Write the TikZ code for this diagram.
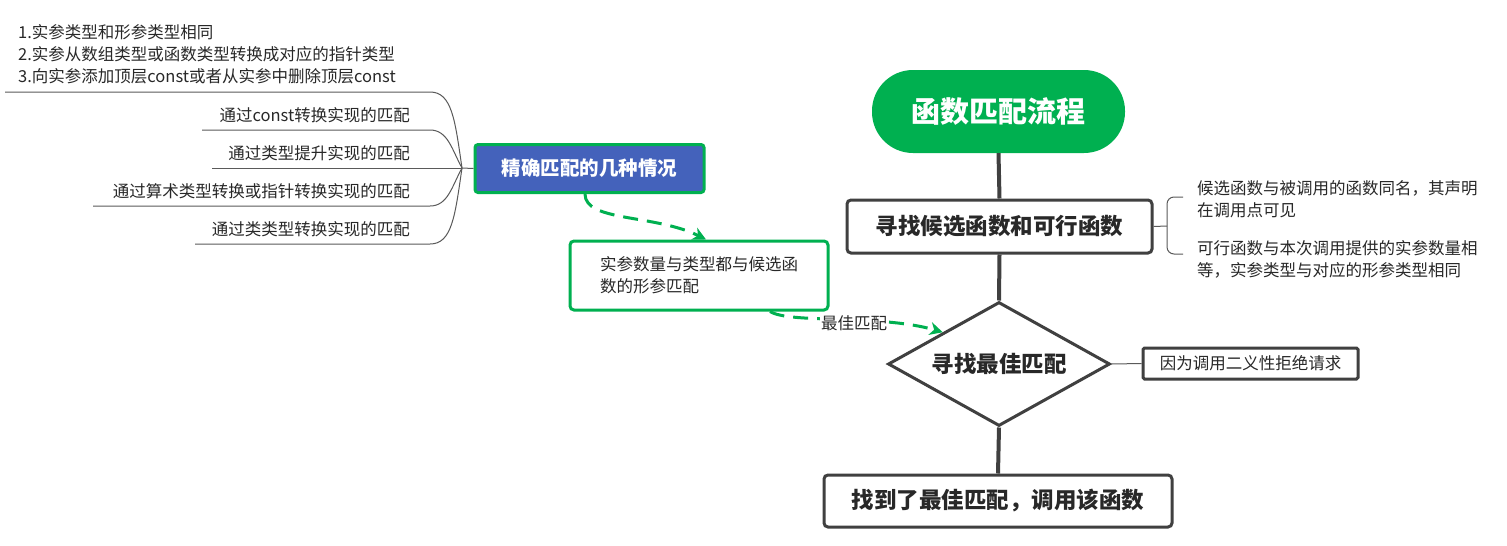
\documentclass[tikz,border=0pt]{standalone}
\usepackage{fontspec}
\setmainfont{Noto Sans CJK SC}
\usetikzlibrary{shapes.geometric,arrows.meta}
\definecolor{mgreen}{RGB}{0,176,80}
\definecolor{mblue}{RGB}{68,98,187}
\definecolor{mdark}{RGB}{64,64,64}
\definecolor{mtext}{RGB}{40,40,40}
\definecolor{mline}{RGB}{90,90,90}
\begin{document}
\begin{tikzpicture}[x=1pt,y=-1pt,
  small/.style={font=\fontsize{16.5}{22}\selectfont, text=mtext, inner sep=0pt},
  pill/.style={fill=mgreen, rounded corners=41pt, minimum width=253pt, minimum height=83pt, text=white, font=\fontsize{29}{34}\selectfont\bfseries},
  gbox/.style={draw=mdark, line width=3pt, rounded corners=4pt, fill=white, text=mtext, font=\fontsize{22.5}{27}\selectfont\bfseries},
  dia/.style={diamond, draw=mdark, line width=3pt, fill=white, inner sep=0pt, minimum width=222pt, minimum height=124pt, aspect=1.79, text=mtext, font=\fontsize{22.5}{27}\selectfont\bfseries},
  flow/.style={draw=mdark, line width=4pt},
  thin/.style={draw=mline, line width=1pt},
  garrow/.style={draw=mgreen, line width=3pt, dash pattern=on 15pt off 9pt, -{Stealth[length=13pt,width=13pt,inset=4pt]}},
]
\useasboundingbox (0,0) rectangle (1507,546);
\fill[white] (0,0) rectangle (1507,546);

% main flow
\node[pill] (title) at (998.5,111.5) {函数匹配流程};
\node[gbox, minimum width=305pt, minimum height=53pt] (find) at (999.5,226.5) {寻找候选函数和可行函数};
\node[dia] (best) at (999,364) {寻找最佳匹配};
\node[gbox, minimum width=348pt, minimum height=52pt] (call) at (998,501) {找到了最佳匹配，调用该函数};
\node[draw=mdark, line width=3pt, rounded corners=1.5pt, minimum width=215pt, minimum height=31pt, small, inner sep=0pt] (amb) at (1250.5,363.5) {因为调用二义性拒绝请求};

\draw[flow] (title.south) -- (find.north);
\draw[flow] (find.south) -- (best.north);
\draw[flow] (best.south) -- (call.north);
\draw[thin] (best.east) -- (amb.west);

% brace on the right
\coordinate (br) at (1167,226);
\draw[thin] (find.east) -- (br);
\draw[thin, rounded corners=7pt] (1183,197) -- (1167,197) -- (1167,254) -- (1183,254);
\node[small, anchor=west, align=left] (cand) at (1197,199) {候选函数与被调用的函数同名，其声明\\在调用点可见};
\node[small, anchor=west, align=left] (viab) at (1197,259) {可行函数与本次调用提供的实参数量相\\等，实参类型与对应的形参类型相同};

% exact match box
\node[fill=mblue, draw=mgreen, line width=3pt, rounded corners=3pt, minimum width=229pt, minimum height=48pt, text=white, font=\fontsize{19.5}{24}\selectfont\bfseries] (exact) at (589.5,168.5) {精确匹配的几种情况};

\node[draw=mgreen, line width=3pt, rounded corners=4pt, fill=white, small, align=left, inner xsep=27pt, minimum width=258pt, minimum height=69pt] (match) at (699,275.5) {实参数量与类型都与候选函\\数的形参匹配};

\draw[garrow] ([xshift=-4.5pt]exact.south) .. controls (585,222) and (655,214) .. ([xshift=7pt]match.north);
\draw[garrow] ([xshift=71pt]match.south) .. controls (790,324) and (880,314) .. (best.north west);
\node[small, fill=white, inner sep=1pt] (lbl) at (854,323) {最佳匹配};

% left tree
\coordinate (j) at (462,168);
\draw[thin] (j) -- (exact.west);
\node[small, anchor=west, align=left] (t0) at (18,54.5) {1.实参类型和形参类型相同\\2.实参从数组类型或函数类型转换成对应的指针类型\\3.向实参添加顶层const或者从实参中删除顶层const};
\node[small, anchor=east] (t1) at (410,115.5) {通过const转换实现的匹配};
\node[small, anchor=east] (t2) at (410,153.5) {通过类型提升实现的匹配};
\node[small, anchor=east] (t3) at (410,191.5) {通过算术类型转换或指针转换实现的匹配};
\node[small, anchor=east] (t4) at (410,229.5) {通过类类型转换实现的匹配};

\draw[thin] (5,92) -- (430,92) .. controls (452,92) and (455,120) .. (j);
\draw[thin] (202,130) -- (430,130) .. controls (448,130) and (452,150) .. (j);
\draw[thin] (212,168) -- (j);
\draw[thin] (93,206) -- (430,206) .. controls (448,206) and (452,186) .. (j);
\draw[thin] (195,244) -- (430,244) .. controls (452,244) and (455,216) .. (j);
\end{tikzpicture}
\end{document}
